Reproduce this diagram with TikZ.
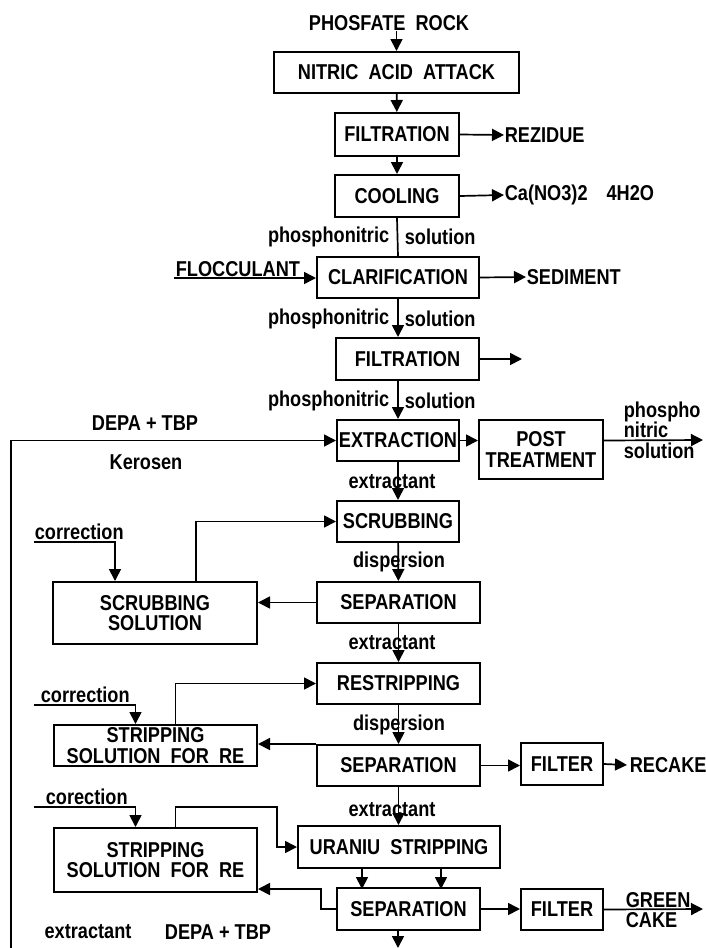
\documentclass[tikz,border=0pt]{standalone}
\usepackage{fontspec}
\setmainfont{Liberation Sans}[FakeStretch=0.845]
\usetikzlibrary{arrows.meta, positioning}
\tikzset{
  every picture/.style={font=\fontsize{21.5}{20.5}\selectfont\bfseries, line width=1.7pt},
  box/.style={draw, line width=2pt, align=center, inner sep=0pt},
  arrow/.style={-{Triangle[length=12pt, width=12pt]}},
  note/.style={inner sep=0pt, align=left},
}

\begin{document}
\begin{tikzpicture}[x=1pt, y=-1pt]
  \useasboundingbox (0,0) rectangle (705,948);
  % main column
  \node[note] (rock) at (389,23) {PHOSFATE~~ROCK};
  \node[box, minimum width=245pt, minimum height=41pt] (attack) at (396.5,72.5) {NITRIC~~ACID~~ATTACK};
  \node[box, minimum width=124pt, minimum height=43pt] (filt1) at (397,134.5) {FILTRATION};
  \node[box, minimum width=124pt, minimum height=42pt] (cool) at (397,196) {COOLING};
  \node[box, minimum width=162pt, minimum height=41pt] (clar) at (398,277.5) {CLARIFICATION};
  \node[box, minimum width=143pt, minimum height=42pt] (filt2) at (407.5,359) {FILTRATION};
  \node[box, minimum width=122pt, minimum height=41pt] (extr) at (398,440.5) {EXTRACTION};
  \node[box, minimum width=124pt, minimum height=59pt] (post) at (541,449.5) {POST\\TREATMENT};
  \node[box, minimum width=122pt, minimum height=41pt] (scrub) at (398,521.5) {SCRUBBING};
  \node[box, minimum width=163pt, minimum height=41pt] (sep1) at (398.5,602.5) {SEPARATION};
  \node[box, minimum width=204pt, minimum height=62pt] (scrsol) at (155,613) {SCRUBBING\\SOLUTION};
  \node[box, minimum width=163pt, minimum height=41pt] (restr) at (398.5,683.5) {RESTRIPPING};
  \node[box, minimum width=203pt, minimum height=41pt] (strip1) at (155.5,745.5) {STRIPPING\\SOLUTION~~FOR~~RE};
  \node[box, minimum width=163pt, minimum height=41pt] (sep2) at (398.5,765.5) {SEPARATION};
  \node[box, minimum width=82pt, minimum height=42pt] (filter1) at (562,764) {FILTER};
  \node[box, minimum width=203pt, minimum height=64pt] (strip2) at (155.5,860) {STRIPPING\\SOLUTION~~FOR~~RE};
  \node[box, minimum width=202pt, minimum height=42pt] (uran) at (399,847) {URANIU~~STRIPPING};
  \node[box, minimum width=143pt, minimum height=42pt] (sep3) at (408.5,909) {SEPARATION};
  \node[box, minimum width=82pt, minimum height=41pt] (filter2) at (562,909.5) {FILTER};

  % side texts
  \node[note, anchor=west] (rezidue) at (504,135) {REZIDUE};
  \node[note, anchor=west] (cano3) at (504,195) {Ca(NO3)2\hspace{19pt}4H2O};
  \node[note, anchor=west] (sediment) at (526,277) {SEDIMENT};
  \node[note, anchor=base west] (flocc) at (175,276) {FLOCCULANT};
  \node[note, anchor=east] (pn1) at (390,237) {phosphonitric};
  \node[note, anchor=west] (sol1) at (404,237) {solution};
  \node[note, anchor=east] (pn2) at (390,319) {phosphonitric};
  \node[note, anchor=west] (sol2) at (404,319) {solution};
  \node[note, anchor=east] (pn3) at (390,401) {phosphonitric};
  \node[note, anchor=west] (sol3) at (404,401) {solution};
  \node[note] (depa1) at (145,423) {DEPA + TBP};
  \node[note] (kero) at (146,462) {Kerosen};
  \node[note, anchor=west] (pnout) at (623,430) {phospho\\nitric\\solution};
  \node[note] (ext1) at (392,482) {extractant};
  \node[note] (disp1) at (399,562) {dispersion};
  \node[note] (ext2) at (392,643) {extractant};
  \node[note] (disp2) at (399,725) {dispersion};
  \node[note] (ext3) at (392,810) {extractant};
  \node[note, anchor=base west] (corr1t) at (34,539) {correction};
  \node[note, anchor=base west] (corr2t) at (40,702) {correction};
  \node[note, anchor=base west] (corr3t) at (45,804) {corection};
  \node[note, anchor=west] (recake) at (629,765) {RECAKE};
  \node[note, anchor=west] (green) at (625,910) {GREEN\\CAKE};
  \node[note] (ext4) at (88,932) {extractant};
  \node[note] (depa2) at (218,932) {DEPA + TBP};

  % free ends
  \coordinate (floccin) at (174,278);
  \coordinate (filt2out) at (522,359);
  \coordinate (loopin) at (11,948);
  \coordinate (postout) at (703,440);
  \coordinate (corr1) at (34,542);
  \coordinate (corr2) at (34,705);
  \coordinate (corr3) at (34,807);
  \coordinate (recakein) at (627,765);
  \coordinate (ubend) at (277,807);
  \coordinate (sbend) at (321,889);
  \coordinate (greenout) at (703,909);
  \coordinate (sepout) at (398,948);

  % connectors
  \draw[arrow] (rock.south -| attack.north) -- (attack.north);
  \draw[arrow] (attack) -- (filt1);
  \draw[arrow] (filt1) -- (cool);
  \draw[arrow] (filt1.east) -- (rezidue.west);
  \draw[arrow] (cool.east) -- (cano3.west);
  \draw (cool.south) -- (clar.north);
  \draw[arrow] (floccin) -- (floccin -| clar.west);
  \draw[arrow] (clar.east) -- (sediment.west);
  \draw[arrow] (clar.south) -- (clar.south |- filt2.north);
  \draw[arrow] (filt2.east) -- (filt2out);
  \draw[arrow] (filt2.south -| extr.north) -- (extr.north);
  \draw[arrow] (loopin) |- (extr.west);
  \draw[arrow] (extr.east) -- (extr.east -| post.west);
  \draw[arrow] (extr.east -| post.east) -- (postout);
  \draw[arrow] (extr) -- (scrub);
  \draw[arrow] (scrub) -- (sep1);
  \draw[arrow] (sep1.west) -- (sep1.west -| scrsol.east);
  \draw[arrow] ([xshift=41pt]scrsol.north) |- (scrub.west);
  \draw[arrow] (corr1) -| ([xshift=-40pt]scrsol.north);
  \draw[arrow] (sep1) -- (restr);
  \draw[arrow] (restr) -- (sep2);
  \draw[arrow] ([xshift=20pt]strip1.north) |- (restr.west);
  \draw[arrow] (corr2) -| ([xshift=-20pt]strip1.north);
  \draw[arrow] (sep2.north west) -- (sep2.north west -| strip1.east);
  \draw[arrow] (sep2.east) -- (sep2.east -| filter1.west);
  \draw[arrow] (filter1.east) -- (recakein);
  \draw[arrow] (sep2.south) -- (sep2.south |- uran.north);
  \draw[arrow] (corr3) -| ([xshift=-20pt]strip2.north);
  \draw[arrow] ([xshift=20pt]strip2.north) |- (ubend) |- (uran.west);
  \draw[arrow] ([xshift=-37pt]uran.south) -- ++(0,20);
  \draw[arrow] ([xshift=42pt]uran.south) -- ++(0,20);
  \draw[arrow] (sep3.west) -| (sbend) -- (sbend -| strip2.east);
  \draw[arrow] (sep3.east) -- (sep3.east -| filter2.west);
  \draw[arrow] (filter2.east) -- (greenout);
  \draw[arrow] (sepout |- sep3.south) -- (sepout);
\end{tikzpicture}
\end{document}
